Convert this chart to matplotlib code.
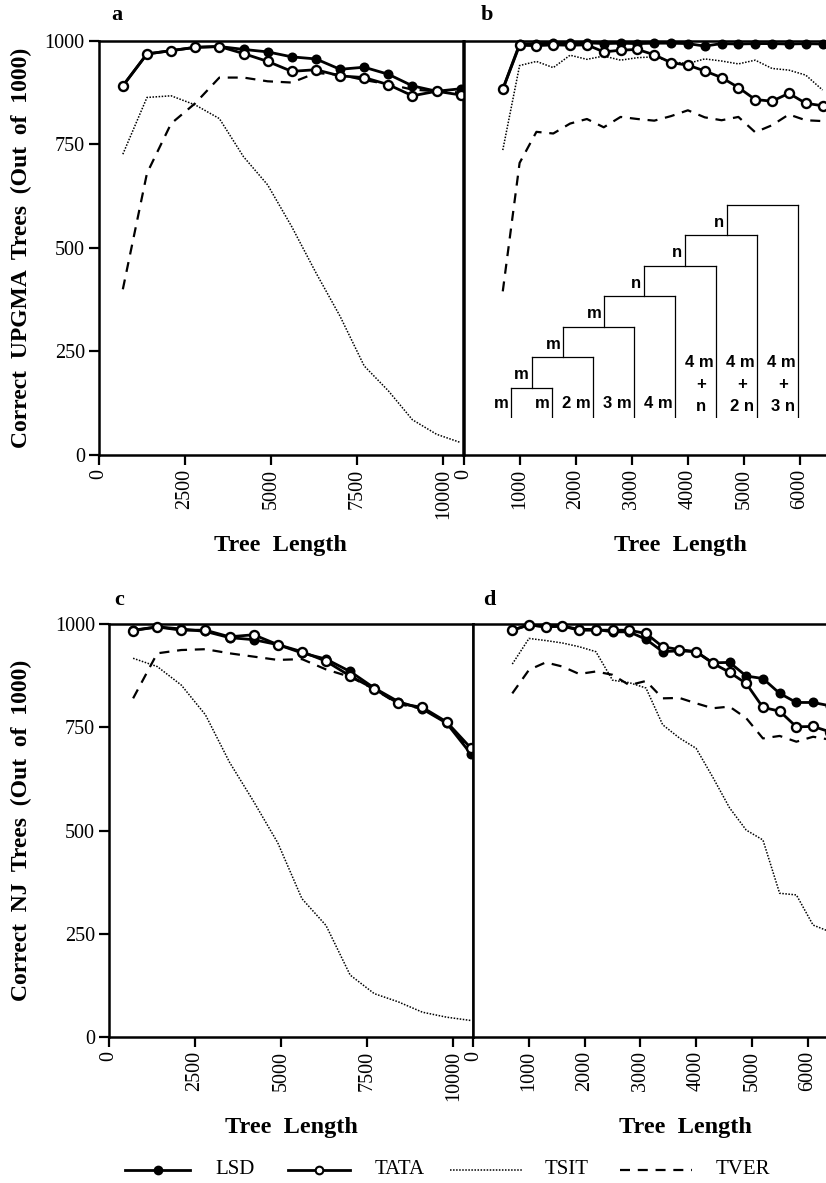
import matplotlib
matplotlib.use("Agg")
import matplotlib.pyplot as plt
from matplotlib.lines import Line2D

# ---------------- data ----------------
x_long = [700, 1400, 2100, 2800, 3500, 4200, 4900, 5600, 6300, 7000,
          7700, 8400, 9100, 9800, 10500]
x_short = [700, 1000, 1300, 1600, 1900, 2200, 2500, 2800, 3100, 3400,
           3700, 4000, 4300, 4600, 4900, 5200, 5500, 5800, 6100, 6400]

# panel a (UPGMA, long trees)
a_lsd = [891, 968, 976, 984, 986, 979, 973, 961, 956, 931, 936, 919, 891, 878, 884]
a_tata = [891, 968, 976, 984, 986, 969, 950, 926, 930, 915, 911, 894, 867, 878, 869]
a_tsit = [726, 863, 867, 845, 812, 720, 652, 551, 440, 335, 215, 155, 85, 50, 30]
a_tver = [400, 680, 800, 849, 911, 911, 902, 899, 922, 918, 905, 895, 882, 878, 875]

# panel b (UPGMA, short trees)
b_lsd = [883, 992, 993, 994, 994, 995, 993, 994, 993, 994, 994, 993, 987, 993, 992,
         993, 993, 992, 993, 992]
b_tata = [883, 989, 988, 990, 989, 990, 973, 977, 979, 966, 947, 941, 927, 911, 887,
          858, 854, 873, 849, 843]
b_tsit = [736, 940, 950, 935, 965, 955, 963, 953, 959, 961, 949, 945, 956, 951, 944,
          953, 933, 929, 917, 881]
b_tver = [395, 705, 780, 776, 800, 811, 791, 816, 811, 807, 818, 832, 815, 808, 816,
          779, 796, 822, 808, 806]

# panel c (NJ, long trees)
c_lsd = [985, 993, 988, 982, 967, 962, 950, 930, 915, 885, 845, 812, 794, 760, 686]
c_tata = [984, 993, 985, 985, 969, 974, 950, 933, 910, 874, 843, 808, 798, 763, 700]
c_tsit = [917, 897, 852, 780, 665, 570, 470, 335, 270, 150, 105, 85, 60, 48, 40]
c_tver = [820, 929, 937, 939, 929, 921, 913, 915, 890, 872, 842, 806, 795, 761, 692]

# panel d (NJ, short trees)
d_lsd = [985, 998, 993, 995, 987, 987, 981, 981, 963, 933, 935, 933, 906, 907, 874,
         868, 832, 810, 810, 802]
d_tata = [985, 998, 993, 995, 985, 985, 985, 985, 977, 945, 938, 933, 905, 883, 856,
          798, 789, 751, 752, 739]
d_tsit = [903, 965, 960, 954, 945, 933, 864, 858, 845, 756, 724, 699, 629, 555, 501,
          477, 348, 344, 271, 255]
d_tver = [832, 889, 907, 897, 879, 885, 877, 852, 862, 820, 821, 808, 796, 800, 772,
          723, 729, 715, 727, 720]

yticks = [0, 250, 500, 750, 1000]
xticks_long = [0, 2500, 5000, 7500, 10000]
xticks_short = [0, 1000, 2000, 3000, 4000, 5000, 6000]

legend_labels = ["LSD", "TATA", "TSIT", "TVER"]

# inset tree (caterpillar) description
tree_node_x = [0.505, 1.28, 2.27, 3.25, 4.24, 5.27]
tree_node_lab = ["m", "m", "m", "n", "n", "n"]
tree_leaf_lab = ["m", "m", "2 m", "3 m", "4 m"]
tree_comp_top = ["4 m", "4 m", "4 m"]
tree_comp_bot = ["n", "2 n", "3 n"]

# ---------------- figure ----------------
W, H = 826, 1183
fig = plt.figure(figsize=(W / 100, H / 100), dpi=100)
SERIF = "Liberation Serif"
SANS = "Liberation Sans"
plt.rcParams["font.family"] = SERIF


def box(l, t, r, b):
    return [l / W, 1 - b / H, (r - l) / W, (b - t) / H]


def style(ax, xticks, xlim, show_y=True):
    ax.set_xlim(*xlim)
    ax.set_ylim(0, 1000)
    for s in ax.spines.values():
        s.set_linewidth(1.8)
    ax.spines["right"].set_visible(False)
    ax.set_xticks(xticks)
    ax.set_xticklabels([str(t) for t in xticks], rotation=90, fontsize=14.5,
                       family=SERIF)
    if show_y:
        ax.set_yticks(yticks)
        ax.set_yticklabels([str(t) for t in yticks], fontsize=14.5, family=SERIF)
    else:
        ax.set_yticks([])
    ax.tick_params(axis="both", direction="out", length=7, width=1.6, pad=3)


STY = {
    "LSD": dict(color="black", lw=2.0, marker="o", ms=6, mfc="black", mec="black", mew=1.2),
    "TATA": dict(color="black", lw=2.0, marker="o", ms=6.5, mfc="white", mec="black", mew=1.7),
    "TSIT": dict(color="black", lw=1.1, ls=(0, (1, 1))),
    "TVER": dict(color="black", lw=1.6, ls=(0, (4.5, 3.5))),
}


def draw(ax, x, lsd, tata, tsit, tver):
    ax.plot(x, tsit, clip_on=False, zorder=2, **STY["TSIT"])
    ax.plot(x, tver, clip_on=False, zorder=2, **STY["TVER"])
    ax.plot(x, lsd, clip_on=False, zorder=3, **STY["LSD"])
    ax.plot(x, tata, clip_on=False, zorder=4, **STY["TATA"])


axa = fig.add_axes(box(98.7, 40.7, 463.3, 455))
axb = fig.add_axes(box(463.5, 40.7, 826, 455))
axc = fig.add_axes(box(109, 624, 473.3, 1037))
axd = fig.add_axes(box(473.3, 624, 826, 1037))

style(axa, xticks_long, (0, 10575))
style(axb, xticks_short, (0, (826 - 463.5) / 0.0561), show_y=False)
style(axc, xticks_long, (0, 10575))
style(axd, xticks_short, (0, (826 - 473.3) / 0.0557), show_y=False)

draw(axa, x_long, a_lsd, a_tata, a_tsit, a_tver)
draw(axb, x_short, b_lsd, b_tata, b_tsit, b_tver)
draw(axc, x_long, c_lsd, c_tata, c_tsit, c_tver)
draw(axd, x_short, d_lsd, d_tata, d_tsit, d_tver)
for ax in (axa, axc):
    ax.spines["right"].set_visible(True)

# y labels
fig.text(21 / W, 1 - 248 / H, "Correct  UPGMA  Trees  (Out  of  1000)", rotation=90,
         ha="center", va="center", fontsize=17, fontweight="bold", family=SERIF)
fig.text(21 / W, 1 - 830 / H, "Correct  NJ  Trees  (Out  of  1000)", rotation=90,
         ha="center", va="center", fontsize=17, fontweight="bold", family=SERIF)

# x labels
for xc, yc in [(280, 545), (680, 545), (291, 1127), (685, 1127)]:
    fig.text(xc / W, 1 - yc / H, "Tree  Length", ha="center", va="center",
             fontsize=17.5, fontweight="bold", family=SERIF)

# panel letters
for lab, xc, yc in [("a", 117, 15), ("b", 487, 15), ("c", 119, 600), ("d", 489, 600)]:
    fig.text(xc / W, 1 - yc / H, lab, ha="center", va="center", fontsize=16,
             fontweight="bold", family=SERIF)

# ---------------- inset tree ----------------
ux, uy = 41.0, 30.5
x0, ybot = 511.0, 418.3
axi = fig.add_axes(box(x0 - 0.6 * ux, ybot - 7.5 * uy, x0 + 7.6 * ux, ybot))
axi.set_xlim(-0.6, 7.6)
axi.set_ylim(0, 7.5)
axi.axis("off")
axi.patch.set_alpha(0)
lw_t = 0.9
axi.plot([0, 0], [0, 1], color="black", lw=lw_t)
axi.plot([1, 1], [0, 1], color="black", lw=lw_t)
axi.plot([0, 1], [1, 1], color="black", lw=lw_t)
for k, nx in enumerate(tree_node_x):
    leaf = k + 2
    lvl = k + 2
    axi.plot([nx, nx], [k + 1, lvl], color="black", lw=lw_t)
    axi.plot([nx, leaf], [lvl, lvl], color="black", lw=lw_t)
    axi.plot([leaf, leaf], [0, lvl], color="black", lw=lw_t)
    axi.text(nx - 0.07, k + 1.42, tree_node_lab[k], ha="right", va="center",
             fontsize=12, fontweight="bold", family=SANS)
for i, lab in enumerate(tree_leaf_lab):
    axi.text(i - 0.07, 0.5, lab, ha="right", va="center", fontsize=12,
             fontweight="bold", family=SANS)
for j, (t, b) in enumerate(zip(tree_comp_top, tree_comp_bot)):
    leaf = 5 + j
    axi.text(leaf - 0.05, 1.83, t, ha="right", va="center", fontsize=12,
             fontweight="bold", family=SANS)
    axi.text(leaf - 0.37, 1.1, "+", ha="center", va="center", fontsize=12,
             fontweight="bold", family=SANS)
    axi.text(leaf - 0.37, 0.38, b, ha="center", va="center", fontsize=12,
             fontweight="bold", family=SANS)

# ---------------- legend (manual layout) ----------------
leg_y = 1 - 1170 / H
leg_lines = [(125, 190), (288, 350), (450, 522), (620, 692)]
leg_text_x = [215, 375, 545, 716]
for lab, (l0, l1), tx in zip(legend_labels, leg_lines, leg_text_x):
    st = dict(STY[lab])
    st.pop("marker", None)
    fig.add_artist(Line2D([l0 / W, l1 / W], [leg_y, leg_y], transform=fig.transFigure,
                          color="black", lw=st["lw"], ls=st.get("ls", "-")))
    if "mfc" in STY[lab]:
        fig.add_artist(Line2D([(l0 + l1) / 2 / W], [leg_y], transform=fig.transFigure,
                              ls="none", marker="o", ms=5.5, mfc=STY[lab]["mfc"],
                              mec="black", mew=1.5))
    fig.text(tx / W, leg_y, lab, ha="left", va="center", fontsize=15, family=SERIF)

fig.savefig("out.png", dpi=100)
